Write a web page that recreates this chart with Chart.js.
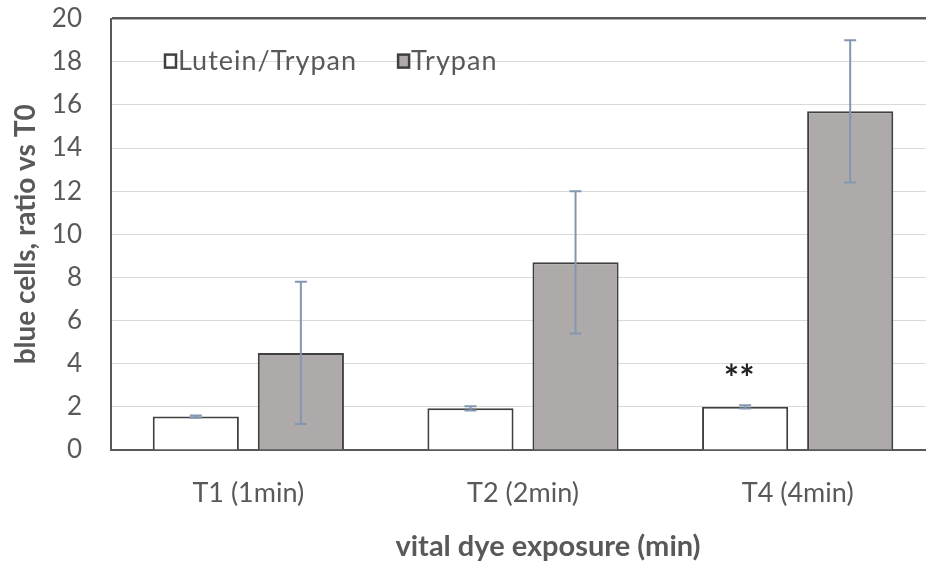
<!DOCTYPE html>
<html>
<head>
<meta charset="utf-8">
<script src="https://cdn.jsdelivr.net/npm/chart.js@4"></script>
<style>
  html, body { margin: 0; padding: 0; background: #ffffff; overflow: hidden; }
  #wrap { position: absolute; left: 0; top: -26px; width: 940px; height: 592px; }
</style>
</head>
<body>
<div id="wrap"><canvas id="chart" width="940" height="592"></canvas></div>
<script>
// Exposure times on the x axis
const categories = ['T1 (1min)', 'T2 (2min)', 'T4 (4min)'];

// Blue cell counts relative to T0, mean and standard deviation
const luteinTrypan = [1.55, 1.93, 2.0];
const luteinTrypanErr = [0.05, 0.1, 0.08];
const trypan = [4.5, 8.7, 15.7];
const trypanErr = [3.3, 3.3, 3.3];

// Significance marks above the Lutein/Trypan bars
const significance = ['', '', '**'];

const seriesNames = ['Lutein/Trypan', 'Trypan'];
const yTicks = [0, 2, 4, 6, 8, 10, 12, 14, 16, 18, 20];
const xTitle = 'vital dye exposure (min)';
const yTitle = 'blue cells, ratio vs T0';

const FONT = 'Lato, "Open Sans", sans-serif';
const TEXT = '#595959';
const AXIS = '#595959';

// Whiskers for each bar, drawn through the value scale
const errorBars = {
  id: 'errorBars',
  afterDatasetsDraw(chart) {
    const ctx = chart.ctx;
    const y = chart.scales.y;
    ctx.save();
    ctx.strokeStyle = '#8497b0';
    ctx.lineWidth = 2;
    chart.data.datasets.forEach((ds, di) => {
      const meta = chart.getDatasetMeta(di);
      meta.data.forEach((bar, i) => {
        const v = ds.data[i], e = ds.errors[i];
        const yHi = y.getPixelForValue(v + e);
        const yLo = y.getPixelForValue(v - e);
        ctx.beginPath();
        ctx.moveTo(bar.x, yHi); ctx.lineTo(bar.x, yLo);
        ctx.moveTo(bar.x - 6, yHi); ctx.lineTo(bar.x + 6, yHi);
        ctx.moveTo(bar.x - 6, yLo); ctx.lineTo(bar.x + 6, yLo);
        ctx.stroke();
      });
    });
    ctx.restore();
  }
};

// Significance stars above the first series
const marks = {
  id: 'marks',
  afterDatasetsDraw(chart) {
    const ctx = chart.ctx;
    const y = chart.scales.y;
    const meta = chart.getDatasetMeta(0);
    ctx.save();
    ctx.fillStyle = '#222222';
    ctx.font = 'bold 36px ' + FONT;
    ctx.textAlign = 'center';
    ctx.textBaseline = 'middle';
    significance.forEach((s, i) => {
      if (!s) return;
      const v = luteinTrypan[i] + luteinTrypanErr[i];
      ctx.fillText(s, meta.data[i].x - 6, y.getPixelForValue(v) - 26);
    });
    ctx.restore();
  }
};

// Legend inside the plot area, top left
const innerLegend = {
  id: 'innerLegend',
  afterDraw(chart) {
    const ctx = chart.ctx;
    const a = chart.chartArea;
    let x = a.left + 54;
    const yc = a.top + 43;
    ctx.save();
    ctx.font = '27px ' + FONT;
    ctx.letterSpacing = '1px';
    ctx.textBaseline = 'middle';
    chart.data.datasets.forEach((ds) => {
      ctx.fillStyle = ds.backgroundColor;
      ctx.fillRect(x, yc - 7, 11, 13);
      ctx.strokeStyle = ds.borderColor;
      ctx.lineWidth = 2.5;
      ctx.strokeRect(x, yc - 7, 11, 13);
      ctx.fillStyle = TEXT;
      ctx.fillText(ds.label, x + 13, yc);
      x += 13 + ctx.measureText(ds.label).width + 41;
    });
    ctx.restore();
  }
};

// Axis title below the category labels
const bottomTitle = {
  id: 'bottomTitle',
  afterDraw(chart) {
    const ctx = chart.ctx;
    const a = chart.chartArea;
    ctx.save();
    ctx.font = 'bold 29px ' + FONT;
    ctx.fillStyle = TEXT;
    ctx.textAlign = 'center';
    ctx.textBaseline = 'middle';
    ctx.fillText(xTitle, a.left + 437, a.bottom + 97);
    ctx.restore();
  }
};

new Chart(document.getElementById('chart'), {
  type: 'bar',
  data: {
    labels: categories,
    datasets: [
      {
        label: seriesNames[0],
        data: luteinTrypan,
        errors: luteinTrypanErr,
        backgroundColor: '#ffffff',
        borderColor: '#404040',
        borderWidth: 2,
        borderSkipped: 'bottom',
        categoryPercentage: 0.765,
        barPercentage: 0.82
      },
      {
        label: seriesNames[1],
        data: trypan,
        errors: trypanErr,
        backgroundColor: '#aeaaaa',
        borderColor: '#404040',
        borderWidth: 2,
        borderSkipped: 'bottom',
        categoryPercentage: 0.765,
        barPercentage: 0.82
      }
    ]
  },
  options: {
    responsive: false,
    animation: false,
    events: [],
    layout: { padding: { left: 0, right: 5, top: 17, bottom: 0 } },
    plugins: {
      legend: { display: false },
      tooltip: { enabled: false },
      title: { display: false }
    },
    scales: {
      x: {
        grid: { display: false, drawTicks: false },
        border: { display: true, color: AXIS, width: 2 },
        ticks: { color: TEXT, font: { family: FONT, size: 27 }, padding: 27, maxRotation: 0 },
        afterFit(s) { s.height = 116; }
      },
      y: {
        min: 0,
        max: 20,
        afterBuildTicks(s) { s.ticks = yTicks.map(v => ({ value: v })); },
        grid: {
          drawTicks: false,
          color: (c) => (c.tick && c.tick.value === 20 ? AXIS : '#d9d9d9'),
          lineWidth: (c) => (c.tick && c.tick.value === 20 ? 2.5 : 1)
        },
        border: { display: true, color: AXIS, width: 2 },
        ticks: { color: TEXT, font: { family: FONT, size: 26 }, padding: 29 },
        title: {
          display: true,
          text: yTitle,
          color: TEXT,
          font: { family: FONT, size: 28, weight: 'bold' },
          padding: { top: 9, bottom: 0 }
        },
        afterFit(s) { s.width = 111; }
      }
    }
  },
  plugins: [errorBars, marks, innerLegend, bottomTitle]
});
</script>
</body>
</html>
